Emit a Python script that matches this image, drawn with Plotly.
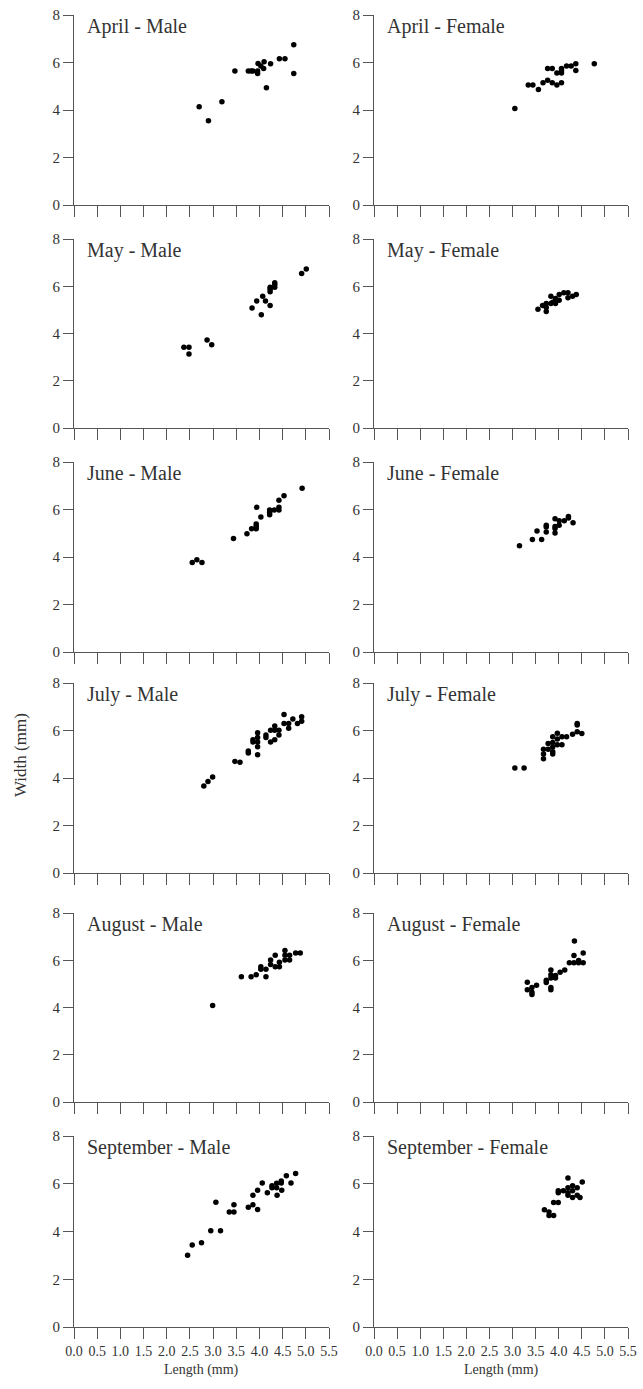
import plotly.graph_objects as go

# ---------------- data (Length mm, Width mm) ----------------
april_male_len = [2.70, 2.90, 3.19, 3.47, 3.76, 3.82, 3.86, 3.96, 3.96, 3.97, 4.03, 4.09, 4.10, 4.15, 4.24, 4.43, 4.55, 4.74, 4.74]
april_male_wid = [4.14, 3.55, 4.35, 5.64, 5.64, 5.64, 5.64, 5.64, 5.54, 5.96, 5.85, 5.75, 6.03, 4.94, 5.95, 6.16, 6.16, 6.75, 5.54]

april_female_len = [3.05, 3.34, 3.44, 3.56, 3.66, 3.76, 3.86, 3.76, 3.86, 3.96, 3.96, 4.06, 4.06, 4.06, 4.06, 4.17, 4.27, 4.37, 4.37, 4.77]
april_female_wid = [4.06, 5.05, 5.05, 4.86, 5.15, 5.75, 5.75, 5.25, 5.15, 5.05, 5.56, 5.66, 5.15, 5.75, 5.56, 5.85, 5.85, 5.95, 5.66, 5.95]

may_male_len = [2.37, 2.48, 2.48, 2.87, 2.97, 3.84, 3.94, 4.07, 4.04, 4.13, 4.23, 4.23, 4.23, 4.23, 4.33, 4.33, 4.33, 4.91, 5.01]
may_male_wid = [3.42, 3.42, 3.13, 3.72, 3.52, 5.08, 5.38, 5.58, 4.79, 5.38, 5.18, 5.77, 5.87, 5.96, 5.96, 6.06, 6.15, 6.54, 6.73]

may_female_len = [3.55, 3.65, 3.73, 3.73, 3.73, 3.83, 3.83, 3.87, 3.93, 3.93, 4.01, 4.01, 4.11, 4.20, 4.20, 4.30, 4.38]
may_female_wid = [5.03, 5.18, 5.27, 5.10, 4.93, 5.58, 5.27, 5.32, 5.48, 5.27, 5.41, 5.65, 5.73, 5.73, 5.51, 5.58, 5.65]

june_male_len = [2.55, 2.65, 2.76, 3.44, 3.73, 3.83, 3.93, 3.93, 3.93, 3.94, 4.03, 4.22, 4.22, 4.22, 4.32, 4.42, 4.42, 4.42, 4.53, 4.92]
june_male_wid = [3.77, 3.88, 3.77, 4.78, 4.98, 5.19, 5.19, 5.29, 5.39, 6.09, 5.68, 5.78, 5.88, 5.98, 5.98, 5.98, 6.09, 6.39, 6.58, 6.89]

june_female_len = [3.15, 3.43, 3.53, 3.63, 3.73, 3.73, 3.73, 3.92, 3.92, 3.92, 3.92, 4.01, 4.01, 4.12, 4.21, 4.21, 4.31]
june_female_wid = [4.47, 4.74, 5.09, 4.74, 5.05, 5.26, 5.34, 5.01, 5.20, 5.28, 5.61, 5.34, 5.53, 5.53, 5.71, 5.64, 5.44]

july_male_len = [2.80, 2.89, 2.99, 3.47, 3.58, 3.76, 3.76, 3.86, 3.86, 3.96, 3.96, 3.96, 3.96, 3.96, 4.14, 4.14, 4.24, 4.24, 4.33, 4.33, 4.33, 4.42, 4.42, 4.53, 4.53, 4.63, 4.63, 4.72, 4.82, 4.91, 4.91]
july_male_wid = [3.66, 3.85, 4.04, 4.70, 4.66, 5.14, 5.05, 5.61, 5.52, 5.91, 5.71, 5.52, 5.32, 4.98, 5.81, 5.71, 6.01, 5.52, 6.19, 6.01, 5.61, 6.01, 5.81, 6.67, 6.29, 6.29, 6.09, 6.48, 6.29, 6.39, 6.58]

july_female_len = [3.05, 3.25, 3.67, 3.67, 3.67, 3.77, 3.77, 3.87, 3.87, 3.87, 3.87, 3.87, 3.97, 3.97, 3.97, 4.07, 4.07, 4.17, 4.30, 4.40, 4.40, 4.40, 4.50]
july_female_wid = [4.42, 4.42, 4.81, 5.01, 5.21, 5.21, 5.45, 5.11, 5.31, 5.50, 5.74, 5.01, 5.40, 5.64, 5.88, 5.40, 5.74, 5.74, 5.84, 5.95, 6.23, 6.29, 5.87]

august_male_len = [2.99, 3.61, 3.82, 3.93, 4.03, 4.03, 4.14, 4.14, 4.24, 4.24, 4.34, 4.34, 4.43, 4.43, 4.55, 4.55, 4.65, 4.65, 4.55, 4.78, 4.88]
august_male_wid = [4.08, 5.30, 5.30, 5.39, 5.73, 5.62, 5.62, 5.30, 6.01, 5.82, 6.21, 5.72, 5.72, 5.92, 6.41, 6.21, 6.21, 6.01, 6.01, 6.31, 6.31]

august_female_len = [3.32, 3.32, 3.42, 3.42, 3.42, 3.52, 3.73, 3.73, 3.83, 3.83, 3.83, 3.83, 3.83, 3.93, 3.93, 4.03, 4.13, 4.23, 4.33, 4.33, 4.34, 4.43, 4.43, 4.53, 4.53]
august_female_wid = [5.07, 4.75, 4.85, 4.55, 4.65, 4.94, 5.15, 5.06, 5.59, 5.39, 5.25, 4.85, 4.75, 5.25, 5.35, 5.49, 5.59, 5.89, 5.89, 6.20, 6.82, 5.89, 5.99, 5.89, 6.31]

september_male_len = [2.45, 2.55, 2.75, 2.95, 3.06, 3.16, 3.35, 3.45, 3.45, 3.76, 3.86, 3.86, 3.96, 3.96, 4.06, 4.17, 4.27, 4.27, 4.37, 4.37, 4.38, 4.47, 4.47, 4.48, 4.58, 4.68, 4.78]
september_male_wid = [3.01, 3.43, 3.53, 4.03, 5.23, 4.03, 4.82, 4.82, 5.12, 5.02, 5.12, 5.52, 4.92, 5.73, 6.03, 5.62, 5.83, 5.92, 5.83, 6.02, 5.52, 6.03, 6.12, 5.73, 6.33, 6.03, 6.43]

september_female_len = [3.69, 3.79, 3.79, 3.89, 3.89, 3.99, 3.99, 3.99, 4.10, 4.20, 4.20, 4.20, 4.20, 4.30, 4.30, 4.30, 4.40, 4.40, 4.46, 4.51]
september_female_wid = [4.91, 4.82, 4.67, 4.67, 5.21, 5.21, 5.62, 5.71, 5.71, 5.62, 5.83, 6.24, 5.52, 5.92, 5.71, 5.42, 5.83, 5.52, 5.42, 6.07]

panel_titles = ["April - Male", "April - Female", "May - Male", "May - Female",
                "June - Male", "June - Female", "July - Male", "July - Female",
                "August - Male", "August - Female", "September - Male", "September - Female"]
panel_data = [
    (april_male_len, april_male_wid), (april_female_len, april_female_wid),
    (may_male_len, may_male_wid), (may_female_len, may_female_wid),
    (june_male_len, june_male_wid), (june_female_len, june_female_wid),
    (july_male_len, july_male_wid), (july_female_len, july_female_wid),
    (august_male_len, august_male_wid), (august_female_len, august_female_wid),
    (september_male_len, september_male_wid), (september_female_len, september_female_wid),
]
x_ticks = [0.0, 0.5, 1.0, 1.5, 2.0, 2.5, 3.0, 3.5, 4.0, 4.5, 5.0, 5.5]
y_ticks = [0, 2, 4, 6, 8]

# ---------------- layout geometry (pixels) ----------------
W, H = 643, 1389
col_px = [(74, 329), (374, 628)]
row_px = [(15, 205), (239, 428), (462, 652), (683, 873), (913, 1102), (1136, 1327)]

def px_x(p):
    return p / W

def px_y(p):
    return 1 - p / H

FONT = "Liberation Serif"
LINE = "#555555"
TXT = "#333333"

fig = go.Figure()
layout = {}
annotations = []
for i, (title, (xs, ys)) in enumerate(zip(panel_titles, panel_data)):
    r, c = divmod(i, 2)
    n = i + 1
    sfx = "" if n == 1 else str(n)
    fig.add_trace(go.Scatter(x=xs, y=ys, mode="markers",
                             marker=dict(color="black", size=5.5),
                             xaxis="x" + sfx, yaxis="y" + sfx, showlegend=False))
    x0, x1 = col_px[c]
    t, b = row_px[r]
    layout["xaxis" + sfx] = dict(
        domain=[px_x(x0), px_x(x1)], range=[0, 5.5], anchor="y" + sfx, automargin=False,
        tickvals=x_ticks, ticktext=[f"{v:.1f}" for v in x_ticks],
        showticklabels=(r == 5), ticks="outside", ticklen=11, tickcolor=LINE, tickwidth=1,
        showline=True, linecolor=LINE, linewidth=1, showgrid=False, zeroline=False,
        tickfont=dict(family=FONT, size=14, color=TXT),
    )
    layout["yaxis" + sfx] = dict(
        domain=[px_y(b), px_y(t)], range=[0, 8], anchor="x" + sfx, automargin=False,
        tickvals=y_ticks, ticks="outside", ticklen=10, tickcolor=LINE, tickwidth=1,
        showline=True, linecolor=LINE, linewidth=1, showgrid=False, zeroline=False,
        tickfont=dict(family=FONT, size=15, color=TXT),
    )
    annotations.append(dict(text=title, xref="paper", yref="paper",
                            x=px_x(x0 + 11), y=px_y(t - 2), xanchor="left", yanchor="top",
                            showarrow=False, font=dict(family=FONT, size=20, color=TXT)))

for c in range(2):
    x0, x1 = col_px[c]
    annotations.append(dict(text="Length (mm)", xref="paper", yref="paper",
                            x=px_x((x0 + x1) / 2), y=px_y(1370), xanchor="center", yanchor="middle",
                            showarrow=False, font=dict(family=FONT, size=14, color=TXT)))

annotations.append(dict(text="Width (mm)", xref="paper", yref="paper",
                        x=px_x(20), y=px_y(755), xanchor="center", yanchor="middle",
                        textangle=-90, showarrow=False, font=dict(family=FONT, size=17, color=TXT)))

fig.update_layout(width=W, height=H, margin=dict(l=0, r=0, t=0, b=0, autoexpand=False),
                  plot_bgcolor="white", paper_bgcolor="white",
                  annotations=annotations, **layout)

fig.write_html("out.html", config={"displayModeBar": False},
               post_script="document.body.style.margin='0';document.body.style.overflow='hidden';")
